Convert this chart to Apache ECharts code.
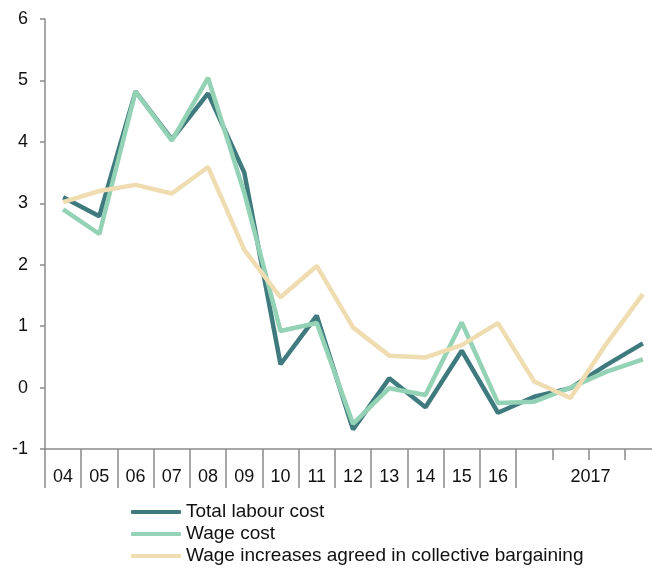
<!DOCTYPE html>
<html>
<head>
<meta charset="utf-8">
<script src="https://cdn.jsdelivr.net/npm/echarts@6/dist/echarts.min.js"></script>
<style>
  html, body { margin: 0; padding: 0; background: #fff; }
  #chart { width: 652px; height: 568px; }
</style>
</head>
<body>
<div id="chart"></div>
<script>
// categories: annual 2004-2016, then the four quarters of 2017
var categories = ['04', '05', '06', '07', '08', '09', '10', '11', '12', '13', '14', '15', '16', 'Q1', 'Q2', 'Q3', 'Q4'];
var totalLabour = [3.10, 2.79, 4.82, 4.04, 4.79, 3.50, 0.38, 1.17, -0.68, 0.15, -0.32, 0.60, -0.41, -0.15, -0.01, 0.37, 0.72];
var wageCost = [2.90, 2.50, 4.82, 4.02, 5.04, 3.17, 0.92, 1.05, -0.59, -0.01, -0.12, 1.06, -0.25, -0.23, 0.00, 0.26, 0.46];
var collective = [3.02, 3.20, 3.30, 3.16, 3.59, 2.24, 1.47, 1.98, 0.98, 0.52, 0.49, 0.69, 1.05, 0.10, -0.17, 0.72, 1.52];
var seriesNames = ['Total labour cost', 'Wage cost', 'Wage increases agreed in collective bargaining'];
var yearLabel = '2017';

var font = "'Liberation Sans', Arial, sans-serif";
var axisGray = '#8a8a8a';
var nYears = 13; // number of annual categories

var myChart = echarts.init(document.getElementById('chart'));

// x axis data, the 2017 label hangs off the second quarter
var xData = categories.map(function (c, i) {
    if (i === nYears + 1) {
        return { value: c, textStyle: { align: 'left' } };
    }
    return c;
});

var option = {
    animation: false,
    grid: {
        left: 45,
        width: 616,   // last quarter is cut by the picture edge
        top: 19,
        bottom: 119,
        outerBoundsMode: 'none'
    },
    legend: {
        orient: 'vertical',
        left: 131,
        top: 501,
        padding: 0,
        height: 67,
        icon: 'roundRect',
        itemWidth: 50,
        itemHeight: 4,
        itemGap: 0,
        selectedMode: false,
        data: seriesNames,
        textStyle: {
            fontFamily: font,
            fontSize: 19,
            color: '#111',
            lineHeight: 22
        }
    },
    xAxis: [
        {
            type: 'category',
            data: xData,
            boundaryGap: true,
            axisLine: { onZero: false, lineStyle: { color: axisGray, width: 1.5 } },
            axisTick: {
                show: true,
                length: 39,
                interval: function (index) { return index <= nYears; },  // long ticks between years
                lineStyle: { color: axisGray, width: 1.5 }
            },
            axisLabel: {
                interval: 0,
                margin: 19,
                fontFamily: font,
                fontSize: 18,
                color: '#111',
                formatter: function (v, i) {
                    if (i < nYears) return v;
                    return i === nYears + 1 ? yearLabel : '';
                }
            },
            splitLine: { show: false }
        },
        {
            type: 'category',
            data: categories,
            position: 'bottom',
            boundaryGap: true,
            axisLine: { show: false, onZero: false },
            axisTick: {
                show: true,
                length: 11,
                interval: function (index) { return index > nYears; },  // short quarter ticks
                lineStyle: { color: axisGray, width: 1.5 }
            },
            axisLabel: { show: false },
            splitLine: { show: false }
        }
    ],
    yAxis: {
        type: 'value',
        min: -1,
        max: 6,
        interval: 1,
        axisLine: { show: true, lineStyle: { color: axisGray, width: 1.5 } },
        axisTick: { show: true, inside: false, length: 5, lineStyle: { color: axisGray, width: 1.5 } },
        axisLabel: {
            margin: 17,
            fontFamily: font,
            fontSize: 18,
            color: '#111'
        },
        splitLine: { show: false }
    },
    series: [
        {
            name: seriesNames[0],
            type: 'line',
            data: totalLabour,
            symbol: 'none',
            itemStyle: { color: '#3f7b7e' },
            lineStyle: { width: 4.5, color: '#3f7b7e' }
        },
        {
            name: seriesNames[1],
            type: 'line',
            data: wageCost,
            symbol: 'none',
            itemStyle: { color: '#94d2b6' },
            lineStyle: { width: 4.5, color: '#94d2b6' }
        },
        {
            name: seriesNames[2],
            type: 'line',
            data: collective,
            symbol: 'none',
            itemStyle: { color: '#f0dcb1' },
            lineStyle: { width: 4.5, color: '#f0dcb1' }
        }
    ]
};
myChart.setOption(option);
</script>
</body>
</html>
